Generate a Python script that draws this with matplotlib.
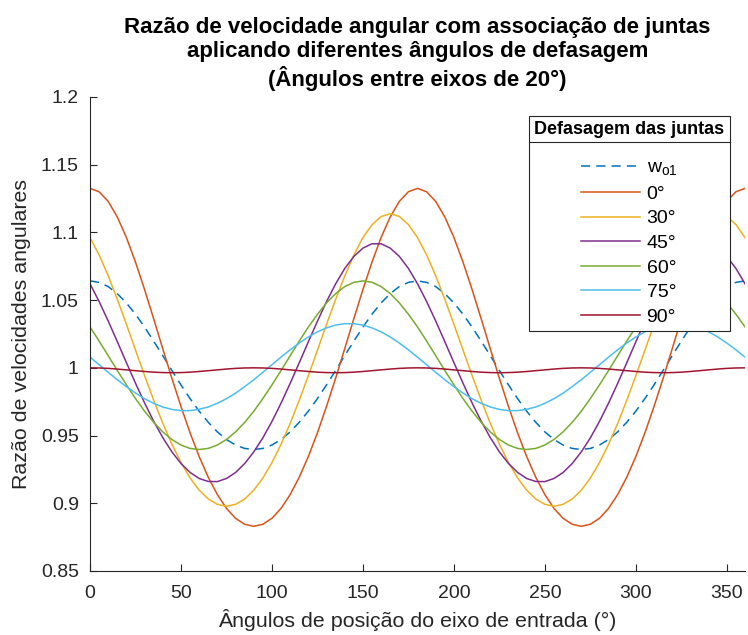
import matplotlib
matplotlib.use('Agg')
import matplotlib.pyplot as plt
from matplotlib.lines import Line2D
from matplotlib.ticker import FuncFormatter
import numpy as np

plt.rcParams['font.family'] = ['Liberation Sans', 'DejaVu Sans']
plt.rcParams['mathtext.fontset'] = 'custom'
plt.rcParams['mathtext.rm'] = 'Liberation Sans'

# Input shaft angle (deg), read every 5 degrees
theta = list(range(0, 361, 5))

# Single joint output ratio (dashed)
w_o1 = [1.0642, 1.0631, 1.0600, 1.0548, 1.0479, 1.0396, 1.0301, 1.0197, 1.0090,
        0.9981, 0.9874, 0.9773, 0.9680, 0.9598, 0.9527, 0.9471, 0.9430, 0.9405,
        0.9397, 0.9405, 0.9430, 0.9471, 0.9527, 0.9598, 0.9680, 0.9773, 0.9874,
        0.9981, 1.0090, 1.0197, 1.0301, 1.0396, 1.0479, 1.0548, 1.0600, 1.0631,
        1.0642, 1.0631, 1.0600, 1.0548, 1.0479, 1.0396, 1.0301, 1.0197, 1.0090,
        0.9981, 0.9874, 0.9773, 0.9680, 0.9598, 0.9527, 0.9471, 0.9430, 0.9405,
        0.9397, 0.9405, 0.9430, 0.9471, 0.9527, 0.9598, 0.9680, 0.9773, 0.9874,
        0.9981, 1.0090, 1.0197, 1.0301, 1.0396, 1.0479, 1.0548, 1.0600, 1.0631,
        1.0642]

# Two joints with phase offsets between them
fase_0 = [1.1325, 1.1300, 1.1229, 1.1114, 1.0963, 1.0781, 1.0578, 1.0362, 1.0141,
          0.9923, 0.9715, 0.9520, 0.9345, 0.9192, 0.9064, 0.8962, 0.8889, 0.8845,
          0.8830, 0.8845, 0.8889, 0.8962, 0.9064, 0.9192, 0.9345, 0.9520, 0.9715,
          0.9923, 1.0141, 1.0362, 1.0578, 1.0781, 1.0963, 1.1114, 1.1229, 1.1300,
          1.1325, 1.1300, 1.1229, 1.1114, 1.0963, 1.0781, 1.0578, 1.0362, 1.0141,
          0.9923, 0.9715, 0.9520, 0.9345, 0.9192, 0.9064, 0.8962, 0.8889, 0.8845,
          0.8830, 0.8845, 0.8889, 0.8962, 0.9064, 0.9192, 0.9345, 0.9520, 0.9715,
          0.9923, 1.0141, 1.0362, 1.0578, 1.0781, 1.0963, 1.1114, 1.1229, 1.1300,
          1.1325]
fase_30 = [1.0962, 1.0834, 1.0680, 1.0507, 1.0322, 1.0132, 0.9943, 0.9761, 0.9591,
           0.9437, 0.9301, 0.9187, 0.9097, 0.9032, 0.8992, 0.8978, 0.8992, 0.9031,
           0.9096, 0.9186, 0.9300, 0.9435, 0.9589, 0.9760, 0.9942, 1.0130, 1.0321,
           1.0505, 1.0678, 1.0832, 1.0961, 1.1057, 1.1117, 1.1138, 1.1118, 1.1058,
           1.0962, 1.0834, 1.0680, 1.0507, 1.0322, 1.0132, 0.9943, 0.9761, 0.9591,
           0.9437, 0.9301, 0.9187, 0.9097, 0.9032, 0.8992, 0.8978, 0.8992, 0.9031,
           0.9096, 0.9186, 0.9300, 0.9435, 0.9589, 0.9760, 0.9942, 1.0130, 1.0321,
           1.0505, 1.0678, 1.0832, 1.0961, 1.1057, 1.1117, 1.1138, 1.1118, 1.1058,
           1.0962]
fase_45 = [1.0621, 1.0490, 1.0346, 1.0194, 1.0039, 0.9887, 0.9741, 0.9606, 0.9485,
           0.9380, 0.9294, 0.9228, 0.9183, 0.9161, 0.9160, 0.9183, 0.9227, 0.9293,
           0.9379, 0.9483, 0.9604, 0.9739, 0.9885, 1.0037, 1.0192, 1.0344, 1.0489,
           1.0620, 1.0733, 1.0822, 1.0884, 1.0916, 1.0916, 1.0884, 1.0823, 1.0734,
           1.0621, 1.0490, 1.0346, 1.0194, 1.0039, 0.9887, 0.9741, 0.9606, 0.9485,
           0.9380, 0.9294, 0.9228, 0.9183, 0.9161, 0.9160, 0.9183, 0.9227, 0.9293,
           0.9379, 0.9483, 0.9604, 0.9739, 0.9885, 1.0037, 1.0192, 1.0344, 1.0489,
           1.0620, 1.0733, 1.0822, 1.0884, 1.0916, 1.0916, 1.0884, 1.0823, 1.0734,
           1.0621]
fase_60 = [1.0302, 1.0198, 1.0090, 0.9981, 0.9875, 0.9773, 0.9680, 0.9598, 0.9527,
           0.9471, 0.9430, 0.9405, 0.9397, 0.9405, 0.9430, 0.9471, 0.9527, 0.9597,
           0.9679, 0.9773, 0.9874, 0.9980, 1.0089, 1.0197, 1.0301, 1.0395, 1.0479,
           1.0548, 1.0600, 1.0631, 1.0642, 1.0632, 1.0600, 1.0549, 1.0480, 1.0396,
           1.0302, 1.0198, 1.0090, 0.9981, 0.9875, 0.9773, 0.9680, 0.9598, 0.9527,
           0.9471, 0.9430, 0.9405, 0.9397, 0.9405, 0.9430, 0.9471, 0.9527, 0.9597,
           0.9679, 0.9773, 0.9874, 0.9980, 1.0089, 1.0197, 1.0301, 1.0395, 1.0479,
           1.0548, 1.0600, 1.0631, 1.0642, 1.0632, 1.0600, 1.0549, 1.0480, 1.0396,
           1.0302]
fase_75 = [1.0079, 1.0023, 0.9967, 0.9912, 0.9861, 0.9814, 0.9772, 0.9738, 0.9711,
           0.9693, 0.9684, 0.9684, 0.9694, 0.9711, 0.9738, 0.9772, 0.9813, 0.9861,
           0.9912, 0.9967, 1.0023, 1.0079, 1.0133, 1.0183, 1.0228, 1.0266, 1.0295,
           1.0316, 1.0326, 1.0326, 1.0316, 1.0295, 1.0266, 1.0228, 1.0183, 1.0133,
           1.0079, 1.0023, 0.9967, 0.9912, 0.9861, 0.9814, 0.9772, 0.9738, 0.9711,
           0.9693, 0.9684, 0.9684, 0.9694, 0.9711, 0.9738, 0.9772, 0.9813, 0.9861,
           0.9912, 0.9967, 1.0023, 1.0079, 1.0133, 1.0183, 1.0228, 1.0266, 1.0295,
           1.0316, 1.0326, 1.0326, 1.0316, 1.0295, 1.0266, 1.0228, 1.0183, 1.0133,
           1.0079]
fase_90 = [1.0000, 0.9999, 0.9996, 0.9991, 0.9985, 0.9979, 0.9973, 0.9968, 0.9965,
           0.9964, 0.9965, 0.9968, 0.9973, 0.9979, 0.9985, 0.9991, 0.9996, 0.9999,
           1.0000, 0.9999, 0.9996, 0.9991, 0.9985, 0.9979, 0.9973, 0.9968, 0.9965,
           0.9964, 0.9965, 0.9968, 0.9973, 0.9979, 0.9985, 0.9991, 0.9996, 0.9999,
           1.0000, 0.9999, 0.9996, 0.9991, 0.9985, 0.9979, 0.9973, 0.9968, 0.9965,
           0.9964, 0.9965, 0.9968, 0.9973, 0.9979, 0.9985, 0.9991, 0.9996, 0.9999,
           1.0000, 0.9999, 0.9996, 0.9991, 0.9985, 0.9979, 0.9973, 0.9968, 0.9965,
           0.9964, 0.9965, 0.9968, 0.9973, 0.9979, 0.9985, 0.9991, 0.9996, 0.9999,
           1.0000]

labels = ['w$_{\\mathregular{o1}}$', '0°', '30°', '45°', '60°', '75°', '90°']
series = [w_o1, fase_0, fase_30, fase_45, fase_60, fase_75, fase_90]
colors = ['#0072BD', '#D95319', '#EDB120', '#7E2F8E', '#77AC30', '#4DBEEE', '#A2142F']
styles = ['--', '-', '-', '-', '-', '-', '-']


def main():
    fig = plt.figure(figsize=(7.48, 6.35), dpi=100)
    ax = fig.add_axes([0.1203, 0.1008, 0.8757, 0.7465])

    for y, c, ls, lab in zip(series, colors, styles, labels):
        ax.plot(theta, y, color=c, linestyle=ls, linewidth=1.1, label=lab,
                dashes=(6, 4) if ls == '--' else (None, None))

    ax.set_xlim(0, 360)
    ax.set_ylim(0.85, 1.2)
    ax.set_xticks(range(0, 351, 50))
    ax.set_yticks(np.arange(0.85, 1.2001, 0.05))
    ax.yaxis.set_major_formatter(FuncFormatter(lambda v, p: '%g' % round(v, 3)))

    # MATLAB-like axes: box off, ticks inside
    for s in ['top', 'right']:
        ax.spines[s].set_visible(False)
    for s in ['left', 'bottom']:
        ax.spines[s].set_color('#262626')
        ax.spines[s].set_linewidth(0.8)
    ax.tick_params(direction='in', length=5, width=0.8, colors='#262626',
                   labelsize=14)
    ax.tick_params(axis='x', pad=10)
    ax.tick_params(axis='y', pad=8)

    ax.set_xlabel('Ângulos de posição do eixo de entrada (°)', fontsize=15.4,
                  color='#262626', labelpad=5)
    ax.set_ylabel('Razão de velocidades angulares', fontsize=15.4,
                  color='#262626', labelpad=7)
    ax.set_title('Razão de velocidade angular com associação de juntas\n'
                 'aplicando diferentes ângulos de defasagem\n'
                 '(Ângulos entre eixos de 20°)',
                 fontsize=16, fontweight='bold', linespacing=1.2, pad=8)

    leg = ax.legend(loc='upper right', bbox_to_anchor=(0.977, 0.960),
                    borderaxespad=0, fontsize=14, title='Defasagem das juntas',
                    title_fontproperties={'size': 13, 'weight': 'bold'},
                    alignment='center', fancybox=False, framealpha=1,
                    edgecolor='#262626', handlelength=3.0, handletextpad=0.35,
                    labelspacing=0.36, borderpad=0.28)
    leg.get_frame().set_linewidth(0.8)
    # more room between the title and the entries
    leg._legend_box.sep = 15

    # Separator line under legend title
    fig.canvas.draw()
    fb = leg.get_frame().get_window_extent()
    tb = leg.get_title().get_window_extent()
    inv = fig.transFigure.inverted()
    (x0, y0), (x1, _) = inv.transform([[fb.x0, tb.y0 - 4], [fb.x1, tb.y0 - 4]])
    fig.add_artist(Line2D([x0, x1], [y0, y0], color='#262626', linewidth=0.8))

    fig.savefig('out.png', dpi=100)
    plt.close()


if __name__ == "__main__":
    main()
